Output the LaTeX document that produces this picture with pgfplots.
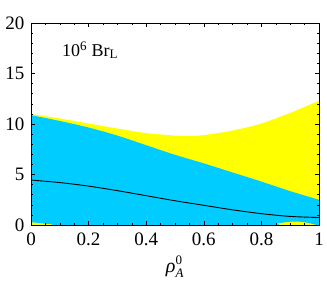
\documentclass[border=0pt]{standalone}
\usepackage{fontspec}
\setmainfont{Liberation Serif}
\usepackage{pgfplots}
\pgfplotsset{compat=1.18}
\usepgfplotslibrary{fillbetween}
\definecolor{bandblue}{RGB}{0,204,255}
\definecolor{bandyellow}{RGB}{255,255,0}
\newcommand{\smallfs}{\fontsize{13bp}{15bp}\selectfont}
\begin{document}
\begin{tikzpicture}
\fontsize{19bp}{22bp}\selectfont
\begin{axis}[
  scale only axis, width=288bp, height=202bp,
  xmin=0, xmax=1, ymin=0, ymax=20,
  xtick={0,0.2,0.4,0.6,0.8,1},
  xticklabels={0,0.2,0.4,0.6,0.8,1},
  ytick={0,5,10,15,20},
  minor x tick num=3, minor y tick num=4,
  tick align=inside,
  major tick length=4bp, minor tick length=2bp,
  axis line style={line width=0.8bp},
  tick style={line width=0.4bp, black},
  /pgf/number format/assume math mode=true,
  tick label style={font=\fontsize{19bp}{22bp}\selectfont},
  xticklabel style={yshift=-1bp},
  xlabel={\textit{ρ}$^{\mbox{\smallfs 0}}_{\mbox{\smallfs\itshape A}}$},
  xlabel style={font=\fontsize{20bp}{22bp}\selectfont, yshift=2bp},
  axis on top,
  clip=true,
]
% yellow band
\addplot[name path=yu, draw=none, smooth] coordinates {
 (0,11.0) (0.1,10.55) (0.2,10.05) (0.3,9.55) (0.4,9.1) (0.5,8.85) (0.55,8.8) (0.6,8.9) (0.7,9.35) (0.8,10.05) (0.9,11.1) (1.0,12.3)};
\addplot[name path=yl, draw=none] coordinates {(0,0) (1,0)};
\addplot[bandyellow] fill between[of=yu and yl];
% blue band
\addplot[name path=bu, draw=none, smooth] coordinates {
 (0,10.88) (0.1,10.3) (0.2,9.65) (0.3,8.85) (0.4,7.9) (0.5,6.95) (0.6,6.1) (0.7,5.2) (0.8,4.3) (0.9,3.35) (1.0,2.5)};
\addplot[name path=bl, draw=none, smooth] coordinates {
 (0,0.28) (0.04,0.16) (0.08,0.06) (0.13,0) (0.81,0) (0.85,0.15) (0.9,0.32) (0.93,0.33) (0.96,0.22) (0.99,0.02) (1.0,0)};
\addplot[bandblue] fill between[of=bu and bl];
% central line
\addplot[black, line width=0.9bp, smooth] coordinates {
 (0,4.45) (0.1,4.2) (0.2,3.85) (0.3,3.4) (0.4,2.9) (0.5,2.4) (0.6,1.95) (0.7,1.5) (0.8,1.12) (0.9,0.85) (1.0,0.74)};
\node[anchor=west, font=\fontsize{18bp}{21bp}\selectfont] at (axis cs:0.085,17.3) {10$^{\mbox{\smallfs 6}}$ Br$_{\mbox{\smallfs L}}$};
\end{axis}
\pgfresetboundingbox
\path (current axis.south west)+(-31bp,-59bp) rectangle ([shift={(8bp,23bp)}]current axis.north east);
\end{tikzpicture}
\end{document}
